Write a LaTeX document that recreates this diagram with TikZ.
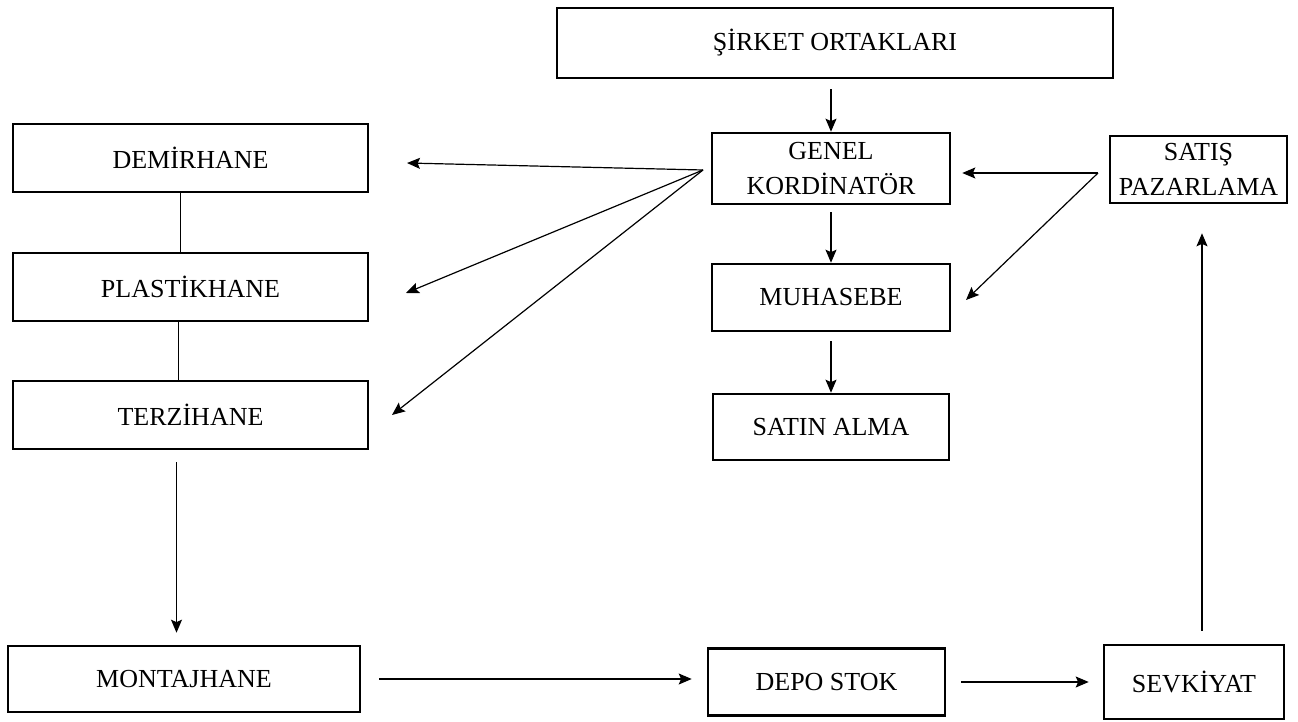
\documentclass[tikz,border=0pt]{standalone}
\usepackage{fontspec}
\setmainfont{Liberation Serif}
\usetikzlibrary{arrows.meta}
\begin{document}
\begin{tikzpicture}[x=.5pt,y=-.5pt,>={Stealth[length=6.5pt,width=5.5pt,inset=1.2pt]},
        font=\fontsize{13}{17.5}\selectfont,
        kutu/.style={draw,line width=1.3pt,inner sep=0pt,align=center},
        ok/.style={->,line width=.6pt}]
                \useasboundingbox (0,0) rectangle (1298,722);
                % orta kolon
                \node[kutu,minimum width=278pt,minimum height=35pt] (sirket) at (835,43) {ŞİRKET ORTAKLARI};
                \node[kutu,minimum width=119pt,minimum height=35.5pt] (genel) at (831,168.5) {GENEL\\KORDİNATÖR};
                \node[kutu,minimum width=119pt,minimum height=33.5pt] (muhasebe) at (831,297.5) {MUHASEBE};
                \node[kutu,minimum width=118pt,minimum height=33pt] (satin) at (831,427) {SATIN ALMA};
                \node[kutu,minimum width=88.5pt,minimum height=33.5pt] (satis) at (1198.5,169.5) {SATIŞ\\PAZARLAMA};
                % sol kolon
                \foreach \ad/\isim/\y in {demir/DEMİRHANE/158,plastik/PLASTİKHANE/287,terzi/TERZİHANE/415}{
                    \node[kutu,minimum width=177.5pt,minimum height=34pt] (\ad) at (190.5,\y) {\isim};}
                % alt satir
                \node[kutu,minimum width=176pt,minimum height=33pt] (montaj) at (184,679) {MONTAJHANE};
                \node[kutu,minimum width=118.5pt,minimum height=33.5pt] (depo) at (826.5,682) {DEPO STOK};
                \node[kutu,minimum width=90pt,minimum height=37pt] (sevk) at (1194,682) {SEVKİYAT};
                %===========================================
                \coordinate (genelL) at (703,170);
                \coordinate (satisL) at (1098,173);
                \coordinate (demirR) at (407,163);
                \coordinate (plastikR) at (406,293);
                \coordinate (terziR) at (392,415);
                \coordinate (muhR) at (966,300);
                \foreach \h in {demir,plastik,terzi}
                    \draw[ok] (genelL) -- (\h R);
                \draw[ok,shorten <=5pt] (sirket.south -| genel.north) -- (genel.north);
                \draw[ok,shorten <=3.5pt] (genel) -- (muhasebe);
                \draw[ok,shorten <=4.5pt] (muhasebe) -- (satin);
                \draw[ok,shorten >=5.5pt] (satisL) -- (satisL -| genel.east);
                \draw[ok] (satisL) -- (muhR);
                \draw[line width=.6pt] ([xshift=-5pt]demir.south) -- ([xshift=-5pt]plastik.north);
                \draw[line width=.6pt] ([xshift=-6pt]plastik.south) -- ([xshift=-6pt]terzi.north);
                \draw[ok,shorten <=6pt,shorten >=6pt] ([xshift=-7pt]terzi.south) -- ([xshift=-7pt]terzi.south |- montaj.north);
                \draw[ok,shorten <=9pt,shorten >=7.5pt] (montaj.east) -- (montaj.east -| depo.west);
                \draw[ok,shorten <=7.5pt,shorten >=7pt] (depo.east) -- (depo.east -| sevk.west);
                \draw[ok,shorten <=6.5pt,shorten >=14.5pt] ([xshift=4pt]sevk.north) -- ([xshift=4pt]sevk.north |- satis.south);
            \end{tikzpicture}
\end{document}
